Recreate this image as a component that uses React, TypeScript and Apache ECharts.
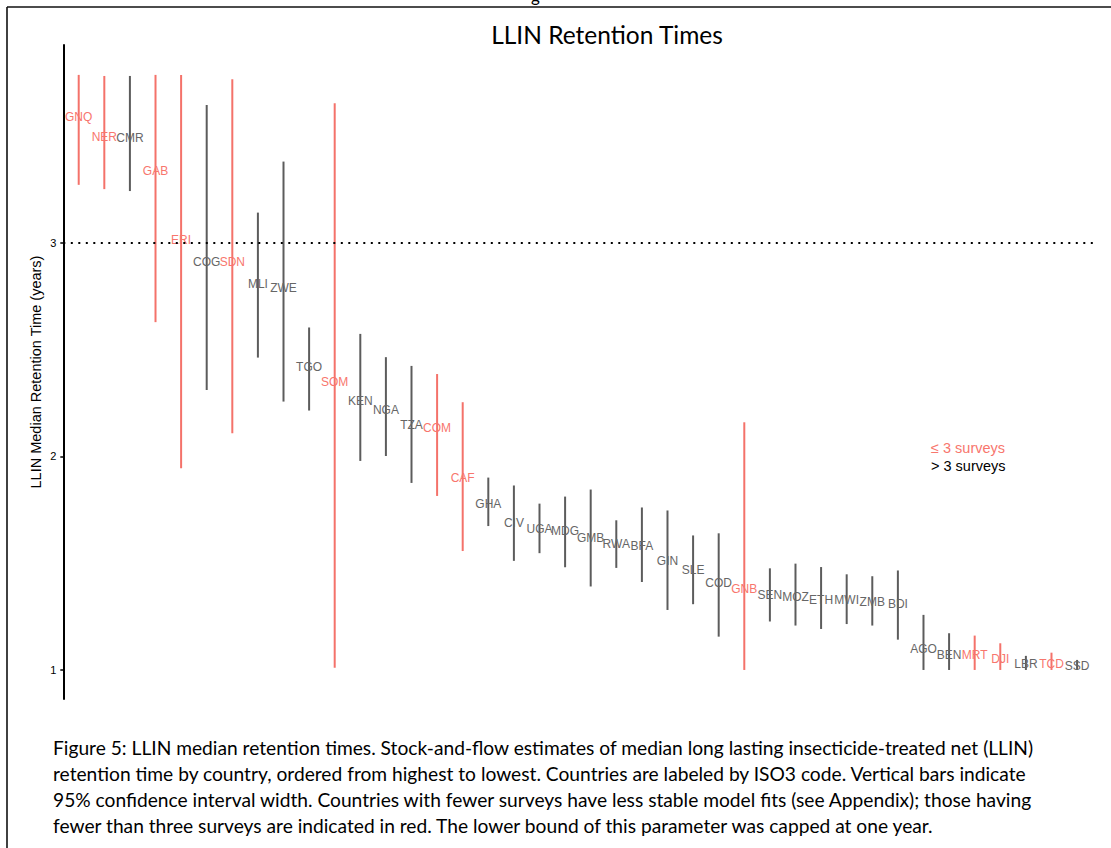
import React, { useEffect, useRef } from "react";
import * as echarts from "echarts";

const countries = ["GNQ","NER","CMR","GAB","ERI","COG","SDN","MLI","ZWE","TGO","SOM","KEN","NGA","TZA","COM","CAF","GHA","CIV","UGA","MDG","GMB","RWA","BFA","GIN","SLE","COD","GNB","SEN","MOZ","ETH","MWI","ZMB","BDI","AGO","BEN","MRT","DJI","LBR","TCD","SSD"];
const median = [3.59,3.495,3.49,3.337,3.013,2.911,2.911,2.807,2.791,2.419,2.349,2.26,2.218,2.146,2.131,1.899,1.779,1.69,1.659,1.653,1.617,1.589,1.581,1.512,1.47,1.409,1.378,1.351,1.344,1.326,1.326,1.32,1.309,1.1,1.07,1.07,1.053,1.028,1.028,1.019];
const lower = [3.272,3.252,3.243,2.629,1.945,2.311,2.109,2.463,2.257,2.215,1.01,1.979,2.002,1.876,1.815,1.557,1.674,1.511,1.547,1.481,1.391,1.478,1.412,1.281,1.308,1.156,1.0,1.227,1.208,1.192,1.215,1.208,1.142,1.0,1.0,1.0,1.0,1.0,1.0,1.0];
const upper = [3.787,3.782,3.782,3.787,3.787,3.646,3.767,3.142,3.381,2.604,3.654,2.574,2.465,2.424,2.386,2.254,1.901,1.864,1.779,1.812,1.845,1.701,1.761,1.747,1.63,1.64,2.16,1.476,1.498,1.482,1.448,1.439,1.466,1.258,1.172,1.161,1.125,1.066,1.081,1.047];
const fewSurveys = ["GNQ","NER","GAB","ERI","SDN","SOM","COM","CAF","GNB","MRT","DJI","TCD"];
const yTicks = [1, 2, 3];
const threshold = 3;
const title = "LLIN Retention Times";
const yName = "LLIN Median Retention Time (years)";
const legendFew = "≤ 3 surveys";
const legendMany = "> 3 surveys";
const captionLines = [
  "Figure 5: LLIN median retention times. Stock-and-flow estimates of median long lasting insecticide-treated net (LLIN)",
  "retention time by country, ordered from highest to lowest. Countries are labeled by ISO3 code. Vertical bars indicate",
  "95% confidence interval width. Countries with fewer surveys have less stable model fits (see Appendix); those having",
  "fewer than three surveys are indicated in red. The lower bound of this parameter was capped at one year.",
];

const RED_LINE = "#F4726A";
const RED_TEXT = "#F8766D";
const GREY_LINE = "#5c5c5c";
const GREY_TEXT = "#666666";

export default function App() {
  const ref = useRef<HTMLDivElement>(null);
  useEffect(() => {
    document.body.style.margin = "0";
    const chart = echarts.init(ref.current!, null, { renderer: "svg" });
    const data = countries.map((c, i) => [i, lower[i], upper[i], median[i]]);
    const capFont = '19.2px Lato';
    chart.setOption({
      animation: false,
      grid: { left: 63.3, right: 16, top: 45, bottom: 149, containLabel: false },
      xAxis: { type: "value", min: -0.602, max: 39.7, show: false },
      yAxis: {
        type: "value",
        min: 0.864,
        max: 3.927,
        name: yName,
        nameLocation: "middle",
        nameGap: 20,
        nameMoveOverlap: false,
        nameTextStyle: { color: "#000", fontSize: 14.5, fontFamily: "Liberation Sans" },
        axisLine: { show: true, onZero: false, lineStyle: { color: "#000", width: 2 } },
        axisTick: { show: true, length: 3, customValues: yTicks, lineStyle: { color: "#000", width: 1.5 } },
        axisLabel: { customValues: yTicks, color: "#000", fontSize: 11, fontFamily: "Liberation Sans", margin: 7 },
        splitLine: { show: false },
      },
      series: [
        {
          type: "line",
          data: [],
          silent: true,
          markLine: {
            silent: true,
            symbol: ["none", "none"],
            label: { show: false },
            lineStyle: { color: "#000", width: 2, type: [2, 5.5] },
            data: [{ yAxis: threshold }],
          },
        },
        {
          type: "custom",
          data,
          encode: { x: 0, y: [1, 2, 3] },
          renderItem: (params: any, api: any) => {
            const i = api.value(0);
            const lo = api.coord([i, api.value(1)]);
            const hi = api.coord([i, api.value(2)]);
            const md = api.coord([i, api.value(3)]);
            const name = countries[params.dataIndex];
            const red = fewSurveys.includes(name);
            return {
              type: "group",
              children: [
                {
                  type: "line",
                  shape: { x1: lo[0], y1: lo[1], x2: hi[0], y2: hi[1] },
                  style: { stroke: red ? RED_LINE : GREY_LINE, lineWidth: 2 },
                },
                {
                  type: "text",
                  x: md[0],
                  y: md[1],
                  style: {
                    text: name,
                    fill: red ? RED_TEXT : GREY_TEXT,
                    font: '12px "Liberation Sans"',
                    align: "center",
                    verticalAlign: "middle",
                  },
                },
              ],
            };
          },
        },
      ],
      graphic: [
        { type: "line", shape: { x1: 7, y1: 7, x2: 1111, y2: 7 }, style: { stroke: "#111", lineWidth: 1.6 } },
        { type: "line", shape: { x1: 7, y1: 7, x2: 7, y2: 848 }, style: { stroke: "#111", lineWidth: 1.6 } },
        { type: "text", x: 531, y: -13, style: { text: "g", font: "17px Lato", fill: "#000" } },
        { type: "text", x: 607, y: 34, style: { text: title, font: "24.5px Lato", fill: "#000", align: "center", verticalAlign: "middle" } },
        { type: "text", x: 931, y: 448, style: { text: legendFew, font: '14.5px "Liberation Sans"', fill: RED_TEXT, align: "left", verticalAlign: "middle" } },
        { type: "text", x: 931, y: 466, style: { text: legendMany, font: '14.5px "Liberation Sans"', fill: "#000", align: "left", verticalAlign: "middle" } },
        ...captionLines.map((t, k) => ({
          type: "text",
          x: 53,
          y: 747 + k * 26,
          style: { text: t, font: capFont, fill: "#000", align: "left", verticalAlign: "middle" },
        })),
      ],
    });
    return () => chart.dispose();
  }, []);
  return <div ref={ref} style={{ width: 1111, height: 848 }} />;
}
